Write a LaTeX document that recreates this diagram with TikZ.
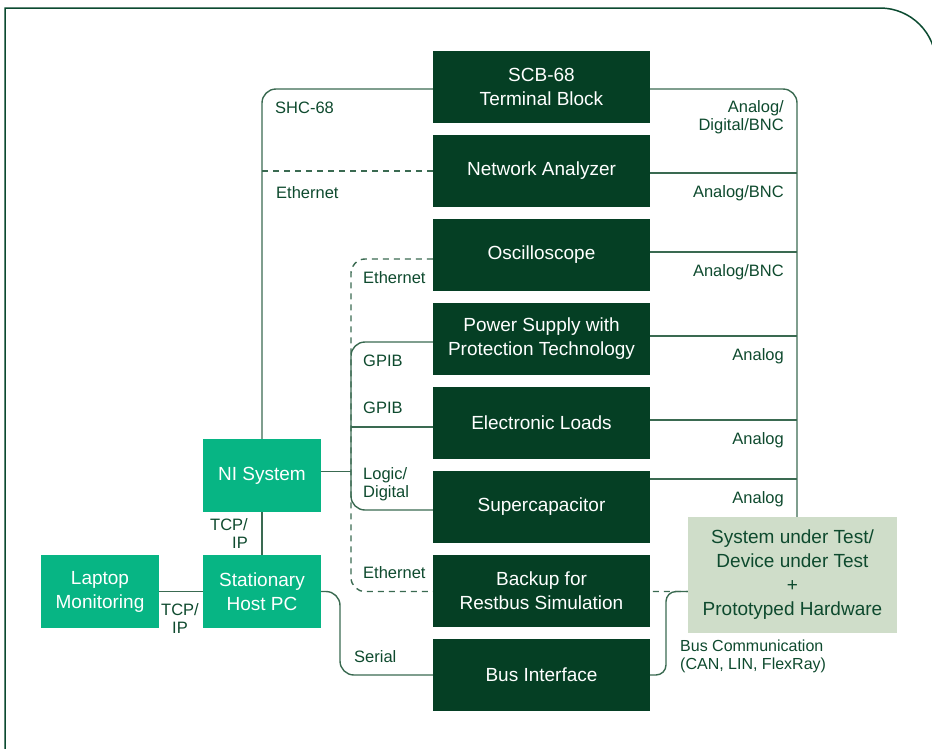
\documentclass[tikz,border=0pt]{standalone}
\usepackage{fontspec}
\setmainfont{Liberation Sans}
\usetikzlibrary{calc}
\definecolor{dk}{HTML}{053F24}
\definecolor{gr}{HTML}{07B584}
\definecolor{sage}{HTML}{CFDDC9}
\definecolor{ln}{HTML}{3A6A51}
\definecolor{tx}{HTML}{0E4A2E}
\definecolor{fr}{HTML}{0B4A30}
\pgfdeclarelayer{bg}
\pgfsetlayers{bg,main}
\begin{document}
\begin{tikzpicture}[x=1pt,y=-1pt,
  dkbox/.style={minimum width=217pt,minimum height=72pt,inner sep=0pt,fill=dk,text=white,align=center,font=\fontsize{19}{24}\selectfont},
  grbox/.style={minimum width=118pt,minimum height=73pt,inner sep=0pt,fill=gr,text=white,align=center,font=\fontsize{19}{24}\selectfont},
  sutbox/.style={minimum width=209pt,minimum height=116pt,inner sep=0pt,fill=sage,text=tx,align=center,font=\fontsize{19}{24}\selectfont},
  lbl/.style={text=tx,inner sep=0pt,font=\fontsize{16.5}{18}\selectfont},
  conn/.style={draw=ln,line width=1.4pt},
  dconn/.style={draw=ln,line width=1.4pt,dash pattern=on 6pt off 5pt},
  frame/.style={draw=fr,line width=1.5pt}
]
\useasboundingbox (0,0) rectangle (932,748);
\begin{scope}
\clip (0,0) rectangle (932,748);
\draw[frame] (5,760) -- (5,8) -- (880,8) arc[start angle=-90,end angle=0,radius=56] -- (936,300);
\end{scope}

% dark boxes
\node[dkbox] (scb) at (541.5,87) {SCB-68\\Terminal Block};
\node[dkbox] (na)  at (541.5,171) {Network Analyzer};
\node[dkbox] (osc) at (541.5,255) {Oscilloscope};
\node[dkbox] (ps)  at (541.5,339) {Power Supply with\\Protection Technology};
\node[dkbox] (el)  at (541.5,423) {Electronic Loads};
\node[dkbox] (sc)  at (541.5,507) {Supercapacitor};
\node[dkbox] (bk)  at (541.5,591) {Backup for\\Restbus Simulation};
\node[dkbox] (bi)  at (541.5,675) {Bus Interface};
% green boxes
\node[grbox] (ni)   at (262,475.5) {NI System};
\node[grbox] (host) at (262,591.5) {Stationary\\Host PC};
\node[grbox] (lap)  at (100,591.5) {Laptop\\Monitoring};
\node[sutbox] (sut) at (792.5,575) {System under Test/\\Device under Test\\+\\Prototyped Hardware};

\coordinate (rb) at (797,0);
\coordinate (lb) at (351,0);
\coordinate (sr) at (340,0);
\coordinate (bc) at (666,0);

\begin{pgfonlayer}{bg}
% left: SHC-68 and Ethernet to NA
\draw[conn,rounded corners=14pt] (ni.north) |- ($(scb.west)+(0,2)$);
\draw[dconn] (na.west) -- (ni.north |- na.west);
% right bus
\draw[conn,rounded corners=14pt] ($(scb.east)+(0,2)$) -| (rb |- sut.north);
\draw[conn] ($(na.east)+(0,2)$) -- ($(rb |- na.east)+(0,2)$);
\draw[conn] ($(osc.east)+(0,-3)$) -- ($(rb |- osc.east)+(0,-3)$);
\draw[conn] ($(ps.east)+(0,-3)$) -- ($(rb |- ps.east)+(0,-3)$);
\draw[conn] ($(el.east)+(0,-3)$) -- ($(rb |- el.east)+(0,-3)$);
\draw[conn] ($(sc.north east)+(0,8)$) -- ($(rb |- sc.north east)+(0,8)$);
% left group
\draw[dconn,rounded corners=14pt] ($(osc.west)+(0,4)$) -| (lb |- host.east) -- (sut.west |- host.east);
\draw[conn,rounded corners=14pt] ($(ps.west)+(0,3)$) -| ($(lb |- sc.west)+(0,3)$) -- ($(sc.west)+(0,3)$);
\draw[conn] ($(el.west)+(0,4)$) -- ($(lb |- el.west)+(0,4)$);
\draw[conn] ($(ni.east)+(0,-4)$) -- ($(lb |- ni.east)+(0,-4)$);
% host links
\draw[conn] (ni.south) -- (host.north);
\draw[conn] (lap.east) -- (host.west);
\draw[conn,rounded corners=14pt] (host.east) -| (sr |- bi.west) -- (bi.west);
\draw[conn,rounded corners=10pt] (bi.east) -| (bc |- host.east) -- (sut.west |- host.east);
\end{pgfonlayer}

% labels
\node[lbl,anchor=west] (l1) at (275,108) {SHC-68};
\node[lbl,anchor=west] (l2) at (276,193) {Ethernet};
\node[lbl,anchor=east,align=right] (r1) at (784,117) {Analog/\\Digital/BNC};
\node[lbl,anchor=east] (r2) at (784,193) {Analog/BNC};
\node[lbl,anchor=east] (r3) at (784,272) {Analog/BNC};
\node[lbl,anchor=east] (r4) at (784,356) {Analog};
\node[lbl,anchor=east] (r5) at (784,440) {Analog};
\node[lbl,anchor=east] (r6) at (784,499) {Analog};
\node[lbl,anchor=west] (m1) at (363,278) {Ethernet};
\node[lbl,anchor=west] (m2) at (363,361) {GPIB};
\node[lbl,anchor=west] (m3) at (363,408) {GPIB};
\node[lbl,anchor=west,align=left] (m4) at (363,484) {Logic/\\Digital};
\node[lbl,anchor=west] (m5) at (363,573) {Ethernet};
\node[lbl,anchor=east,align=right] (t1) at (248,533.5) {TCP/\\IP};
\node[lbl,align=center] (t2) at (180,619) {TCP/\\IP};
\node[lbl,anchor=west] (s1) at (354,657) {Serial};
\node[lbl,anchor=west,align=left,font=\fontsize{16}{18}\selectfont] (b1) at (680,656.5) {Bus Communication\\(CAN, LIN, FlexRay)};
\end{tikzpicture}
\end{document}
